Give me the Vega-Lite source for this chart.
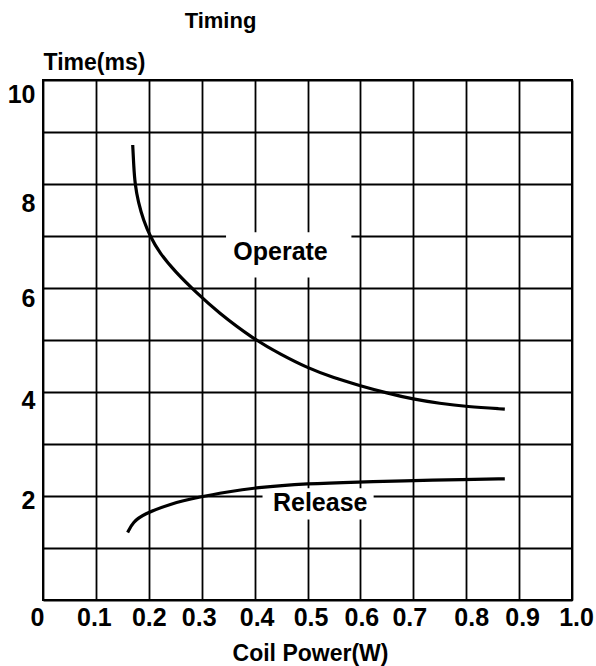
{
  "$schema": "https://vega.github.io/schema/vega-lite/v6.json",
  "autosize": {"type": "none"},
  "width": 529,
  "height": 520,
  "padding": {"left": 43, "top": 80, "right": 24, "bottom": 66},
  "background": "white",
  "config": {
    "view": {"stroke": "black", "strokeWidth": 2},
    "axis": {"gridColor": "black", "gridWidth": 1.8, "gridOpacity": 1, "ticks": false, "domain": false, "labelFont": "Liberation Sans", "labelFontSize": 25, "labelFontWeight": "bold", "labelColor": "black", "titleFont": "Liberation Sans", "titleFontSize": 23, "titleFontWeight": "bold", "titleColor": "black"}
  },
  "resolve": {"axis": {"x": "independent"}},
  "datasets": {
    "curves": [
      {"series": "Operate", "power": 0.1696, "time": 8.75},
      {"series": "Operate", "power": 0.1715, "time": 8.35},
      {"series": "Operate", "power": 0.1739, "time": 8.0},
      {"series": "Operate", "power": 0.18, "time": 7.65},
      {"series": "Operate", "power": 0.19, "time": 7.3},
      {"series": "Operate", "power": 0.2023, "time": 7.0},
      {"series": "Operate", "power": 0.22, "time": 6.68},
      {"series": "Operate", "power": 0.25, "time": 6.31},
      {"series": "Operate", "power": 0.29, "time": 5.91},
      {"series": "Operate", "power": 0.33, "time": 5.54},
      {"series": "Operate", "power": 0.3976, "time": 5.02},
      {"series": "Operate", "power": 0.45, "time": 4.72},
      {"series": "Operate", "power": 0.4984, "time": 4.47},
      {"series": "Operate", "power": 0.55, "time": 4.27},
      {"series": "Operate", "power": 0.6, "time": 4.12},
      {"series": "Operate", "power": 0.65, "time": 3.98},
      {"series": "Operate", "power": 0.7, "time": 3.86},
      {"series": "Operate", "power": 0.75, "time": 3.78},
      {"series": "Operate", "power": 0.8, "time": 3.72},
      {"series": "Operate", "power": 0.873, "time": 3.67},
      {"series": "Release", "power": 0.16, "time": 1.3},
      {"series": "Release", "power": 0.17, "time": 1.5},
      {"series": "Release", "power": 0.19, "time": 1.65},
      {"series": "Release", "power": 0.24, "time": 1.85},
      {"series": "Release", "power": 0.295, "time": 1.98},
      {"series": "Release", "power": 0.35, "time": 2.08},
      {"series": "Release", "power": 0.4, "time": 2.16},
      {"series": "Release", "power": 0.5, "time": 2.24},
      {"series": "Release", "power": 0.6, "time": 2.27},
      {"series": "Release", "power": 0.675, "time": 2.29},
      {"series": "Release", "power": 0.8, "time": 2.32},
      {"series": "Release", "power": 0.873, "time": 2.33}
    ],
    "boxes": [
      {"x": 0.346, "x2": 0.583, "y": 6.2, "y2": 7.07},
      {"x": 0.415, "x2": 0.625, "y": 1.55, "y2": 2.15}
    ],
    "labels": [
      {"label": "Operate", "x": 0.449, "y": 6.7},
      {"label": "Release", "x": 0.524, "y": 1.856}
    ]
  },
  "layer": [
    {
      "data": {"name": "boxes"},
      "mark": {"type": "rect", "fill": "white"},
      "encoding": {
        "x": {"field": "x", "type": "quantitative", "scale": {"domain": [0, 1]},
          "axis": {"values": [0, 0.1, 0.2, 0.3, 0.4, 0.5, 0.6, 0.7, 0.8, 0.9, 1.0],
            "labelExpr": "datum.value == 0 ? '0' : format(datum.value, '.1f')",
            "labelPadding": 5, "labelFlush": false,
            "labelOffset": {"condition": [
              {"test": "datum.value == 0", "value": -6},
              {"test": "datum.value == 0.1", "value": -2},
              {"test": "datum.value == 0.3", "value": -3},
              {"test": "datum.value == 0.4", "value": 2},
              {"test": "datum.value == 0.5", "value": 3},
              {"test": "datum.value == 0.6", "value": 1},
              {"test": "datum.value == 0.7", "value": -4},
              {"test": "datum.value == 0.8", "value": 5},
              {"test": "datum.value == 0.9", "value": 3},
              {"test": "datum.value == 1", "value": 4}
            ], "value": 0},
            "title": "Coil Power(W)", "titleX": 267, "titleY": 60, "titleBaseline": "alphabetic", "titleAlign": "center"}},
        "x2": {"field": "x2"},
        "y": {"field": "y", "type": "quantitative", "scale": {"domain": [0, 10]},
          "axis": {"values": [0, 1, 2, 3, 4, 5, 6, 7, 8, 9, 10],
            "labelExpr": "datum.value > 0 && datum.value % 2 == 0 ? datum.label : ''",
            "labelOffset": {"condition": [
              {"test": "datum.value == 10", "value": 14},
              {"test": "datum.value == 8", "value": 19},
              {"test": "datum.value == 6", "value": 10},
              {"test": "datum.value == 4", "value": 8}
            ], "value": 4},
            "labelPadding": 8, "labelFlush": false,
            "title": "Time(ms)", "titleAngle": 0, "titleAlign": "center", "titleBaseline": "alphabetic", "titleX": 51, "titleY": -11, "titleFontSize": 23}},
        "y2": {"field": "y2"}
      }
    },
    {
      "data": {"name": "curves"},
      "mark": {"type": "line", "color": "black", "strokeWidth": 3.2, "interpolate": "basis"},
      "encoding": {
        "x": {"field": "power", "type": "quantitative", "axis": null},
        "y": {"field": "time", "type": "quantitative"},
        "detail": {"field": "series"}
      }
    },
    {
      "data": {"name": "labels"},
      "mark": {"type": "text", "font": "Liberation Sans", "fontSize": 25, "fontWeight": "bold", "color": "black"},
      "encoding": {
        "x": {"field": "x", "type": "quantitative",
          "axis": {"orient": "top", "labels": false, "grid": false, "domain": false, "ticks": false,
            "title": "Timing", "titleX": 177, "titleY": -53, "titleBaseline": "alphabetic", "titleAlign": "center", "titleFontSize": 22}},
        "y": {"field": "y", "type": "quantitative"},
        "text": {"field": "label"}
      }
    }
  ]
}
